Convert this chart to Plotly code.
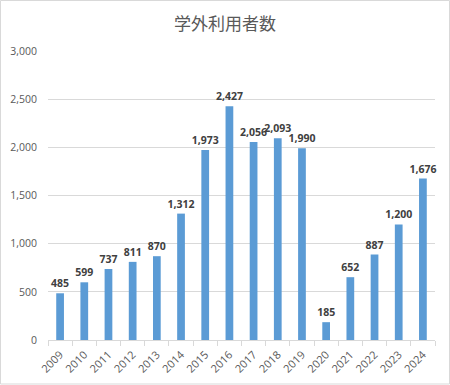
import plotly.graph_objects as go

years = ["2009","2010","2011","2012","2013","2014","2015","2016","2017","2018","2019","2020","2021","2022","2023","2024"]
users = [485, 599, 737, 811, 870, 1312, 1973, 2427, 2056, 2093, 1990, 185, 652, 887, 1200, 1676]
y_ticks = [0, 500, 1000, 1500, 2000, 2500, 3000]
y_tick_labels = ["0", "500", "1,000", "1,500", "2,000", "2,500", "3,000"]

W, H = 450, 385
ml, mr, mt, mb = 48, 15, 51, 45
FONT = "Open Sans, Liberation Sans, sans-serif"

fig = go.Figure()
fig.add_trace(go.Bar(
    x=years, y=users,
    marker=dict(color="#5b9bd5", line=dict(width=0)),
    width=0.32,
    text=[f"{v:,}" for v in users],
    textposition="outside",
    constraintext="none",
    textfont=dict(family=FONT, size=10.5, color="#404040", weight="bold"),
    cliponaxis=False,
))

fig.update_layout(
    width=W, height=H,
    margin=dict(l=ml, r=mr, t=mt, b=mb),
    paper_bgcolor="white", plot_bgcolor="white",
    title=dict(text="学外利用者数", x=0.5, xanchor="center", y=1 - 24 / H, yanchor="middle",
               font=dict(family="Noto Sans CJK JP", size=17, color="#595959")),
    showlegend=False,
    xaxis=dict(
        type="category",
        tickangle=-45,
        tickfont=dict(family=FONT, size=11, color="#595959"),
        showline=True, linecolor="#d9d9d9", linewidth=1,
        ticks="outside", ticklen=5, tickcolor="#d9d9d9", tickson="boundaries",
        ticklabelstandoff=3,
        showgrid=False,
        automargin=False,
    ),
    yaxis=dict(
        range=[0, 3000],
        tickvals=y_ticks, ticktext=y_tick_labels,
        tickfont=dict(family=FONT, size=10.5, color="#595959"),
        showgrid=True, gridcolor="#d9d9d9", gridwidth=1,
        zeroline=False, showline=False,
        ticks="", ticklabelstandoff=10,
        automargin=False,
    ),
)

pw = W - ml - mr
ph = H - mt - mb
fig.add_shape(type="rect", xref="paper", yref="paper",
              x0=(0.5 - ml) / pw, x1=(W - 0.5 - ml) / pw,
              y0=-(mb - 1) / ph, y1=(H - 0.5 - mb) / ph,
              line=dict(color="#d9d9d9", width=1), fillcolor="rgba(0,0,0,0)", layer="below")

fig.write_html("out.html", config={"displayModeBar": False},
               post_script="document.body.style.margin='0';")
